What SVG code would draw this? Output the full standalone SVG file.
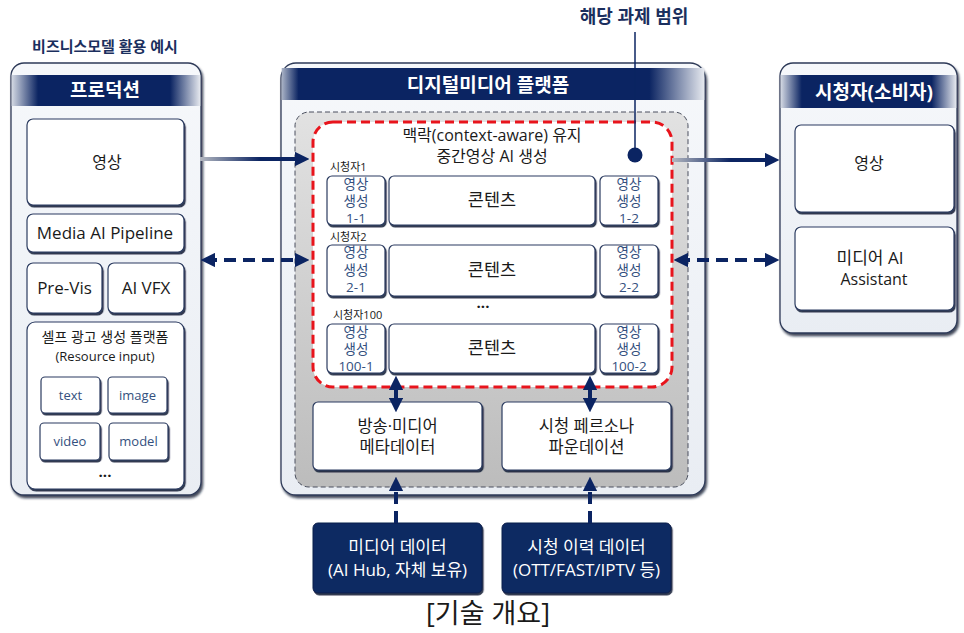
<svg xmlns="http://www.w3.org/2000/svg" width="964" height="633" viewBox="0 0 964 633">
<defs>
<style>
text{font-family:'Open Sans','Noto Sans CJK KR',sans-serif;text-anchor:middle;}
.panel{fill:url(#panelG);stroke:#2e3a58;stroke-width:1.3;filter:url(#psh);}
.box{fill:#ffffff;stroke:#2b3b60;stroke-width:1.2;filter:url(#sh);}
.navy{fill:#0f2b62;stroke:#0a1f4a;stroke-width:1;filter:url(#sh);}
.hd{fill:#ffffff;font-weight:bold;font-size:19px;}
.t16{fill:#1a1a1a;font-size:16px;}
.t13{fill:#1a1a1a;font-size:13px;}
.sb{fill:#34507e;font-size:13.5px;}
.lbl{fill:#1a1a1a;font-size:11px;text-anchor:start;}
.w16{fill:#ffffff;font-size:17px;}
.solid{stroke:#0b2462;stroke-width:4;fill:none;}
.dash{stroke:#0b2462;stroke-width:4;fill:none;stroke-dasharray:12 7;}
</style>
<linearGradient id="panelG" x1="0" y1="0" x2="0" y2="1">
<stop offset="0" stop-color="#f6f8fb"/><stop offset="1" stop-color="#e9edf3"/>
</linearGradient>
<linearGradient id="hdL" x1="0" y1="0" x2="1" y2="0">
<stop offset="0" stop-color="#d4d9e3"/><stop offset="0.14" stop-color="#0b2462"/><stop offset="0.84" stop-color="#0b2462"/><stop offset="1" stop-color="#e6e9ef"/>
</linearGradient>
<linearGradient id="hdC" x1="0" y1="0" x2="1" y2="0">
<stop offset="0" stop-color="#aab3c6"/><stop offset="0.04" stop-color="#0b2462"/><stop offset="0.87" stop-color="#0b2462"/><stop offset="1" stop-color="#e6e9ef"/>
</linearGradient>
<linearGradient id="hdR" x1="0" y1="0" x2="1" y2="0">
<stop offset="0" stop-color="#d4d9e3"/><stop offset="0.12" stop-color="#0b2462"/><stop offset="0.86" stop-color="#0b2462"/><stop offset="1" stop-color="#e6e9ef"/>
</linearGradient>
<linearGradient id="grayG" x1="0" y1="0" x2="0" y2="1">
<stop offset="0" stop-color="#e2e2e2"/><stop offset="1" stop-color="#bcbcbc"/>
</linearGradient>
<linearGradient id="arrG" gradientUnits="userSpaceOnUse" x1="200" y1="0" x2="300" y2="0">
<stop offset="0" stop-color="#b3b7c0"/><stop offset="0.6" stop-color="#0b2462"/><stop offset="1" stop-color="#0b2462"/>
</linearGradient>
<linearGradient id="arrG2" gradientUnits="userSpaceOnUse" x1="672" y1="0" x2="770" y2="0">
<stop offset="0" stop-color="#b3b7c0"/><stop offset="0.6" stop-color="#0b2462"/><stop offset="1" stop-color="#0b2462"/>
</linearGradient>
<filter id="sh" x="-10%" y="-10%" width="125%" height="130%">
<feDropShadow dx="1.2" dy="2" stdDeviation="0.5" flood-color="#0a1530" flood-opacity="0.85"/>
</filter>
<filter id="psh" x="-5%" y="-5%" width="115%" height="115%">
<feDropShadow dx="1.5" dy="2.5" stdDeviation="0.8" flood-color="#0a1530" flood-opacity="0.8"/>
</filter>
<marker id="ah" viewBox="0 0 10 10" refX="7" refY="5" markerWidth="3.6" markerHeight="3.6" orient="auto-start-reverse">
<path d="M0,0 L10,5 L0,10 z" fill="#0b2462"/>
</marker>
</defs>
<rect width="964" height="633" fill="#ffffff"/>

<!-- Left panel -->
<g id="production">
<text x="105" y="52" style="font-size:15px;font-weight:bold;fill:#1b2f5e;">비즈니스모델 활용 예시</text>
<rect class="panel" x="11" y="63" width="190" height="432" rx="13"/>
<rect x="11.7" y="75" width="188.6" height="31" fill="url(#hdL)"/>
<text class="hd" x="105" y="97">프로덕션</text>
</g>
<g id="prod-video"><rect class="box" x="27" y="119" width="157" height="86" rx="6"/><text class="t16" x="107" y="168">영상</text></g>
<g id="media-ai-pipeline"><rect class="box" x="27" y="214" width="157" height="38" rx="6"/><text class="t16" x="105" y="239" style="font-size:17px">Media AI Pipeline</text></g>
<g id="pre-vis"><rect class="box" x="27" y="263" width="75" height="50" rx="6"/><text class="t16" x="64.5" y="294" style="font-size:17px">Pre-Vis</text></g>
<g id="ai-vfx"><rect class="box" x="108" y="263" width="76" height="50" rx="6"/><text class="t16" x="146" y="294" style="font-size:17px">AI VFX</text></g>
<g id="self-ad">
<rect class="box" x="27" y="322" width="157" height="167" rx="8"/>
<text class="t13" x="105" y="342" style="font-size:14px">셀프 광고 생성 플랫폼</text>
<text class="t13" x="105" y="361">(Resource input)</text>
<text x="105" y="477" style="font-size:15px;font-weight:bold;fill:#1a1a1a;">...</text>
</g>
<g id="res-text"><rect class="box" x="41" y="377" width="59" height="36" rx="4"/><text class="sb" x="70.5" y="400" style="font-size:13px">text</text></g>
<g id="res-image"><rect class="box" x="108" y="377" width="59" height="36" rx="4"/><text class="sb" x="137.5" y="400" style="font-size:13px">image</text></g>
<g id="res-video"><rect class="box" x="40" y="423" width="60" height="37" rx="4"/><text class="sb" x="70" y="446" style="font-size:13px">video</text></g>
<g id="res-model"><rect class="box" x="109" y="423" width="59" height="37" rx="4"/><text class="sb" x="138.5" y="446" style="font-size:13px">model</text></g>

<!-- Center panel -->
<g id="platform">
<rect class="panel" x="281" y="63" width="424" height="432" rx="15"/>
<rect x="281.7" y="68" width="422.6" height="32" fill="url(#hdC)"/>
<text class="hd" x="488" y="92">디지털미디어 플랫폼</text>
<rect x="295" y="112" width="393" height="375" rx="14" fill="url(#grayG)" stroke="#4a4f5e" stroke-width="1" stroke-dasharray="5 3"/>
</g>
<g id="scope">
<rect x="313" y="122" width="359" height="265" rx="20" fill="#ffffff" stroke="#e8141c" stroke-width="3" stroke-dasharray="9 5"/>
<text class="t16" x="492" y="141">맥락(context-aware) 유지</text>
<text class="t16" x="492" y="162">중간영상 AI 생성</text>
<text class="lbl" x="330" y="171">시청자1</text>
<text class="lbl" x="330" y="241">시청자2</text>
<text class="lbl" x="333" y="319">시청자100</text>
<text x="483" y="308" style="font-size:15px;font-weight:bold;fill:#1a1a1a;">...</text>
</g>
<g id="gen-1-1"><rect class="box" x="327" y="176" width="58" height="49" rx="5"/><text class="sb" x="356" y="189">영상</text><text class="sb" x="356" y="206">생성</text><text class="sb" x="356" y="223">1-1</text></g>
<g id="content-1"><rect class="box" x="389" y="176" width="206" height="49" rx="5"/><text class="t16" x="492" y="206" style="font-size:17.5px">콘텐츠</text></g>
<g id="gen-1-2"><rect class="box" x="600" y="176" width="58" height="49" rx="5"/><text class="sb" x="629" y="189">영상</text><text class="sb" x="629" y="206">생성</text><text class="sb" x="629" y="223">1-2</text></g>

<g id="gen-2-1"><rect class="box" x="327" y="245" width="58" height="51" rx="5"/><text class="sb" x="356" y="257">영상</text><text class="sb" x="356" y="275">생성</text><text class="sb" x="356" y="292">2-1</text></g>
<g id="content-2"><rect class="box" x="389" y="245" width="206" height="51" rx="5"/><text class="t16" x="492" y="276" style="font-size:17.5px">콘텐츠</text></g>
<g id="gen-2-2"><rect class="box" x="600" y="245" width="58" height="51" rx="5"/><text class="sb" x="629" y="257">영상</text><text class="sb" x="629" y="275">생성</text><text class="sb" x="629" y="292">2-2</text></g>

<g id="gen-100-1"><rect class="box" x="327" y="324" width="58" height="49" rx="5"/><text class="sb" x="356" y="337">영상</text><text class="sb" x="356" y="354">생성</text><text class="sb" x="356" y="371">100-1</text></g>
<g id="content-100"><rect class="box" x="389" y="324" width="206" height="49" rx="5"/><text class="t16" x="492" y="354" style="font-size:17.5px">콘텐츠</text></g>
<g id="gen-100-2"><rect class="box" x="600" y="324" width="58" height="49" rx="5"/><text class="sb" x="629" y="337">영상</text><text class="sb" x="629" y="354">생성</text><text class="sb" x="629" y="371">100-2</text></g>

<g id="metadata"><rect class="box" x="313" y="402" width="169" height="68" rx="5"/><text class="t16" x="397.5" y="432" style="font-size:16.5px">방송·미디어</text><text class="t16" x="397.5" y="453" style="font-size:16.5px">메타데이터</text></g>
<g id="persona"><rect class="box" x="502" y="402" width="169" height="68" rx="5"/><text class="t16" x="586.5" y="432" style="font-size:16.5px">시청 페르소나</text><text class="t16" x="586.5" y="453" style="font-size:16.5px">파운데이션</text></g>

<g id="media-data"><rect class="navy" x="313" y="523" width="169" height="70" rx="5"/><text class="w16" x="397.5" y="553">미디어 데이터</text><text class="w16" x="397.5" y="576">(AI Hub, 자체 보유)</text></g>
<g id="view-history"><rect class="navy" x="502" y="523" width="169" height="70" rx="5"/><text class="w16" x="586.5" y="553">시청 이력 데이터</text><text class="w16" x="586.5" y="576">(OTT/FAST/IPTV 등)</text></g>

<!-- Right panel -->
<g id="viewer">
<rect class="panel" x="780" y="63" width="177" height="270" rx="13"/>
<rect x="780.7" y="75" width="175.6" height="33" fill="url(#hdR)"/>
<text class="hd" x="874" y="99">시청자(소비자)</text>
</g>
<g id="viewer-video"><rect class="box" x="795" y="125" width="159" height="87" rx="6"/><text class="t16" x="869" y="169">영상</text></g>
<g id="media-ai-assistant"><rect class="box" x="795" y="227" width="159" height="83" rx="6"/><text class="t16" x="870" y="264" style="font-size:17px">미디어 AI</text><text class="t16" x="874" y="285">Assistant</text></g>

<!-- Scope label -->
<g id="scope-label">
<text x="634" y="23" style="font-size:18px;font-weight:bold;fill:#1b2f5e;">해당 과제 범위</text>
</g>

<!-- Connectors -->
<g id="connectors">
<line x1="635" y1="32" x2="635" y2="155" stroke="#0b2462" stroke-width="1.5"/>
<circle cx="635" cy="155" r="7.5" fill="#0b2462"/>
<line x1="200" y1="159" x2="305" y2="159" stroke="url(#arrG)" stroke-width="4" marker-end="url(#ah)"/>
<line class="dash" x1="205" y1="260" x2="305" y2="260" marker-start="url(#ah)" marker-end="url(#ah)"/>
<line x1="672" y1="160" x2="775" y2="160" stroke="url(#arrG2)" stroke-width="4" marker-end="url(#ah)"/>
<line class="dash" x1="678" y1="260" x2="775" y2="260" marker-start="url(#ah)" marker-end="url(#ah)"/>
<line class="solid" x1="396" y1="380" x2="396" y2="408" marker-start="url(#ah)" marker-end="url(#ah)"/>
<line class="solid" x1="590" y1="380" x2="590" y2="408" marker-start="url(#ah)" marker-end="url(#ah)"/>
<line class="dash" x1="396" y1="523" x2="396" y2="481" marker-end="url(#ah)"/>
<line class="dash" x1="590" y1="523" x2="590" y2="481" marker-end="url(#ah)"/>
</g>

<text x="488" y="623" style="font-size:27px;fill:#1a1a1a;">[기술 개요]</text>
</svg>
